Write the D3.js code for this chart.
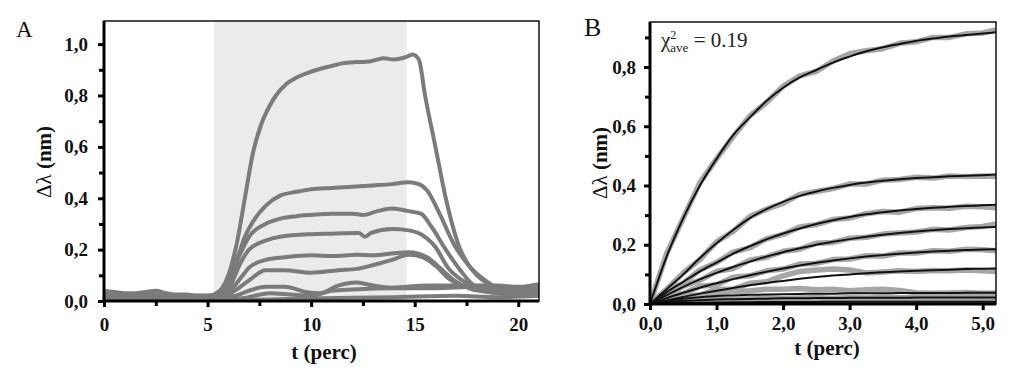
<!DOCTYPE html>
<html>
<head>
<meta charset="utf-8">
<script src="https://cdn.jsdelivr.net/npm/d3@7"></script>
<style>
  body { margin: 0; background: #fff; }
  text { font-family: "Liberation Serif", "Times New Roman", "DejaVu Serif", serif; }
</style>
</head>
<body>
<svg id="chart" width="1024" height="389"></svg>
<script>
// ---- panel A : sensorgrams [t (perc), delta lambda (nm)]
const traceA1 = [[0,0.04],[0.5,0.035],[1,0.03],[1.5,0.03],[2,0.035],[2.5,0.04],[3,0.03],[3.5,0.025],[4,0.025],[4.5,0.02],[5,0.02],[5.3,0.025],[5.7,0.05],[6.0,0.1],[6.4,0.22],[6.8,0.4],[7.2,0.58],[7.6,0.69],[8.0,0.76],[8.3,0.8],[8.8,0.845],[9.3,0.87],[9.9,0.89],[10.5,0.905],[11,0.915],[11.5,0.925],[12.2,0.93],[12.8,0.932],[13.5,0.945],[14,0.94],[14.6,0.95],[14.9,0.96],[15.2,0.94],[15.5,0.8],[16.0,0.6],[16.5,0.4],[17.2,0.2],[17.6,0.14],[18.0,0.1],[18.5,0.07],[19.05,0.05],[19.5,0.04],[20,0.035],[20.5,0.045],[21,0.05]];
const traceA2 = [[0,0.03],[1,0.025],[2,0.03],[3,0.02],[4,0.02],[5,0.015],[5.5,0.02],[6.0,0.08],[6.5,0.18],[6.8,0.25],[7.2,0.31],[7.8,0.37],[8.5,0.41],[9.3,0.425],[10,0.435],[11,0.44],[12,0.445],[13,0.45],[13.9,0.455],[14.7,0.462],[15.2,0.455],[15.6,0.43],[16.2,0.34],[16.9,0.22],[17.7,0.13],[18.4,0.08],[19,0.05],[19.5,0.04],[20,0.035],[21,0.04]];
const traceA3 = [[0,0.02],[1,0.02],[2,0.025],[3,0.015],[4,0.015],[5,0.02],[5.6,0.02],[6.0,0.07],[6.5,0.17],[7,0.25],[7.8,0.3],[8.5,0.32],[9.3,0.33],[10,0.335],[11,0.34],[12,0.34],[12.5,0.335],[13.2,0.35],[13.9,0.36],[14.7,0.35],[15.3,0.34],[15.8,0.29],[16.5,0.2],[17.2,0.12],[17.8,0.065],[18.7,0.04],[19.5,0.03],[20.5,0.03],[21,0.035]];
const traceA4 = [[0,0.025],[1,0.02],[2,0.02],[3,0.02],[4,0.015],[5,0.015],[5.6,0.02],[6.1,0.06],[6.6,0.15],[7,0.2],[7.8,0.235],[8.5,0.25],[10,0.26],[11,0.262],[12.3,0.265],[12.6,0.25],[12.9,0.265],[13.9,0.28],[14.7,0.275],[15.3,0.26],[16,0.21],[16.6,0.13],[17.3,0.08],[18.1,0.046],[19,0.03],[20,0.025],[21,0.03]];
const traceA5 = [[0,0.03],[1,0.025],[2,0.02],[3,0.025],[4,0.02],[5,0.02],[5.7,0.02],[6.2,0.05],[6.7,0.1],[7,0.13],[7.8,0.16],[8.7,0.17],[10,0.178],[11,0.175],[12.2,0.18],[13,0.178],[13.9,0.185],[14.7,0.19],[15.6,0.17],[16.2,0.13],[16.9,0.08],[17.6,0.05],[18.5,0.035],[19.5,0.03],[21,0.03]];
const traceA6 = [[0,0.02],[1,0.02],[2,0.03],[3,0.02],[4,0.02],[5,0.02],[5.8,0.02],[6.3,0.04],[7,0.08],[7.8,0.12],[8.7,0.12],[10,0.11],[11.3,0.12],[12.2,0.125],[13,0.14],[13.9,0.16],[14.7,0.18],[15.4,0.17],[16.1,0.13],[16.6,0.09],[17.3,0.06],[18.8,0.04],[20,0.035],[21,0.04]];
const traceA7 = [[0,0.02],[2,0.02],[4,0.02],[5.5,0.015],[6.3,0.02],[7,0.04],[7.8,0.055],[8.7,0.055],[9.9,0.033],[10.4,0.03],[11.3,0.06],[12.2,0.072],[13,0.06],[13.9,0.052],[15.6,0.06],[17.3,0.06],[19,0.06],[20,0.055],[21,0.065]];
const traceA8 = [[0,0.015],[3,0.015],[5.5,0.01],[6.5,0.01],[8,0.03],[9,0.025],[10,0.02],[11,0.04],[12,0.045],[14,0.05],[16,0.05],[18,0.055],[20,0.05],[21,0.05]];
const traceA9 = [[0,0.01],[5,0.01],[7,0.005],[10,0.01],[14,0.015],[17,0.02],[19,0.015],[21,0.02]];
const tracesA = [traceA1, traceA2, traceA3, traceA4, traceA5, traceA6, traceA7, traceA8, traceA9];
const injection = [5.3, 14.6];   // shaded association phase

const xTicksA = [0, 5, 10, 15, 20];
const xMinorA = [2.5, 7.5, 12.5, 17.5];
const yTicksA = [0, 0.2, 0.4, 0.6, 0.8, 1.0];
const yMinorA = [0.1, 0.3, 0.5, 0.7, 0.9];

// ---- panel B : association phase, data (grey) and fits (black)
const tB = [0,0.25,0.5,0.75,1,1.25,1.5,1.75,2,2.25,2.5,2.75,3,3.25,3.5,3.75,4,4.25,4.5,4.75,5,5.2];
const fitB1 = [0,0.16,0.29,0.40,0.49,0.57,0.63,0.685,0.73,0.765,0.79,0.815,0.835,0.853,0.867,0.878,0.888,0.896,0.903,0.908,0.913,0.917];
const fitB2 = [0,0.05,0.10,0.155,0.205,0.25,0.29,0.32,0.345,0.365,0.38,0.392,0.402,0.41,0.416,0.421,0.425,0.428,0.431,0.433,0.435,0.437];
const fitB3 = [0,0.04,0.075,0.11,0.14,0.17,0.195,0.218,0.238,0.255,0.27,0.283,0.294,0.303,0.31,0.316,0.321,0.325,0.328,0.331,0.333,0.335];
const fitB4 = [0,0.03,0.058,0.083,0.105,0.125,0.143,0.16,0.175,0.188,0.2,0.21,0.219,0.227,0.234,0.24,0.245,0.249,0.253,0.256,0.258,0.26];
const fitB5 = [0,0.02,0.038,0.055,0.07,0.084,0.097,0.109,0.12,0.13,0.139,0.147,0.154,0.16,0.165,0.17,0.174,0.177,0.18,0.182,0.184,0.185];
const fitB6 = [0,0.012,0.024,0.035,0.045,0.054,0.063,0.071,0.078,0.085,0.091,0.096,0.1,0.104,0.107,0.11,0.112,0.114,0.116,0.118,0.119,0.12];
const fitB7 = [0,0.01,0.018,0.023,0.027,0.029,0.031,0.032,0.033,0.034,0.035,0.035,0.036,0.036,0.036,0.037,0.037,0.037,0.037,0.038,0.038,0.038];
const fitB8 = [0,0.006,0.01,0.013,0.015,0.016,0.017,0.018,0.019,0.019,0.02,0.02,0.021,0.021,0.021,0.021,0.022,0.022,0.022,0.022,0.022,0.022];
const fitB9 = [0,0.002,0.003,0.004,0.005,0.006,0.006,0.007,0.007,0.007,0.007,0.008,0.008,0.008,0.008,0.008,0.008,0.008,0.008,0.008,0.008,0.008];
const dataB1 = [0,0.17,0.29,0.41,0.49,0.565,0.635,0.68,0.735,0.77,0.785,0.82,0.845,0.855,0.862,0.88,0.885,0.9,0.9,0.912,0.915,0.925];
const dataB2 = [0,0.05,0.105,0.15,0.21,0.245,0.295,0.32,0.34,0.37,0.38,0.39,0.405,0.405,0.418,0.42,0.428,0.425,0.432,0.43,0.432,0.43];
const dataB3 = [0,0.045,0.07,0.115,0.14,0.175,0.19,0.22,0.235,0.26,0.268,0.285,0.29,0.305,0.312,0.31,0.322,0.325,0.323,0.33,0.328,0.325];
const dataB4 = [0,0.03,0.06,0.08,0.11,0.12,0.148,0.158,0.178,0.185,0.205,0.208,0.222,0.225,0.236,0.24,0.243,0.252,0.25,0.258,0.262,0.27];
const dataB5 = [0,0.025,0.035,0.06,0.065,0.09,0.095,0.112,0.118,0.135,0.137,0.15,0.152,0.163,0.162,0.172,0.172,0.18,0.178,0.185,0.183,0.18];
const dataB6 = [0,0.01,0.028,0.03,0.05,0.05,0.07,0.075,0.095,0.11,0.115,0.118,0.115,0.105,0.108,0.112,0.11,0.113,0.112,0.115,0.112,0.11];
const dataB7 = [0,0.012,0.02,0.03,0.038,0.042,0.045,0.05,0.05,0.052,0.048,0.05,0.045,0.048,0.05,0.046,0.038,0.036,0.037,0.039,0.036,0.037];
const dataB8 = [0,0.005,0.012,0.012,0.016,0.015,0.018,0.02,0.018,0.02,0.022,0.019,0.021,0.02,0.023,0.021,0.022,0.02,0.023,0.021,0.022,0.022];
const dataB9 = [0,0.003,0.002,0.005,0.004,0.006,0.005,0.008,0.006,0.007,0.009,0.007,0.008,0.006,0.009,0.008,0.007,0.009,0.008,0.007,0.008,0.009];
const fitsB = [fitB1, fitB2, fitB3, fitB4, fitB5, fitB6, fitB7, fitB8, fitB9];
const dataB = [dataB1, dataB2, dataB3, dataB4, dataB5, dataB6, dataB7, dataB8, dataB9];

const xTicksB = [0, 1, 2, 3, 4, 5];
const yTicksB = [0, 0.2, 0.4, 0.6, 0.8];
const yMinorB = [0.1, 0.3, 0.5, 0.7, 0.9];

const svg = d3.select("#chart");
const comma = d => d3.format(".1f")(d).replace(".", ",");

function drawFrame(g, x, y) {
    const [x0, x1] = x.range(), [y0, y1] = y.range();
    g.append("rect")
        .attr("x", x0).attr("y", y1)
        .attr("width", x1 - x0).attr("height", y0 - y1)
        .attr("fill", "none").attr("stroke", "#000").attr("stroke-width", 1.4);
    g.append("line").attr("x1", x0).attr("x2", x0).attr("y1", y1).attr("y2", y0 + 1)
        .attr("stroke", "#000").attr("stroke-width", 3);
    g.append("line").attr("x1", x0 - 1).attr("x2", x1).attr("y1", y0).attr("y2", y0)
        .attr("stroke", "#000").attr("stroke-width", 3);
}

function drawAxes(g, x, y, xt, xm, yt, ym, xfmt, yfmt, xpad, ypad) {
    const y0 = y.range()[0], x0 = x.range()[0];
    let ax = g.append("g").attr("transform", `translate(0,${y0})`)
        .call(d3.axisBottom(x).tickValues(xt).tickFormat(xfmt).tickSize(6).tickPadding(xpad));
    let axm = g.append("g").attr("transform", `translate(0,${y0})`)
        .call(d3.axisBottom(x).tickValues(xm).tickFormat("").tickSize(5));
    let ay = g.append("g").attr("transform", `translate(${x0},0)`)
        .call(d3.axisLeft(y).tickValues(yt).tickFormat(yfmt).tickSize(6).tickPadding(ypad));
    let aym = g.append("g").attr("transform", `translate(${x0},0)`)
        .call(d3.axisLeft(y).tickValues(ym).tickFormat("").tickSize(5));
    [ax, axm, ay, aym].forEach(a => {
        a.select(".domain").remove();
        a.selectAll("line").attr("stroke", "#000").attr("stroke-width", 3);
        a.selectAll("text")
            .attr("fill", "#111")
            .style("font-family", "'Liberation Serif', 'Times New Roman', serif")
            .style("font-weight", "bold")
            .style("font-size", "19px");
    });
}

function yTitle(g, cx, cy) {
    const t = g.append("text")
        .attr("transform", `translate(${cx},${cy}) rotate(-90)`)
        .attr("text-anchor", "middle")
        .style("font-size", "21px")
        .attr("fill", "#111");
    t.append("tspan").text("Δλ").style("font-weight", "normal");
    t.append("tspan").text(" (nm)").style("font-weight", "bold");
}

function xTitle(g, cx, cy) {
    g.append("text")
        .attr("x", cx).attr("y", cy)
        .attr("text-anchor", "middle")
        .style("font-size", "21px").style("font-weight", "bold")
        .attr("fill", "#111")
        .text("t (perc)");
}

function drawPanelA() {
    const x = d3.scaleLinear().domain([0, 21]).range([104, 539]);
    const y = d3.scaleLinear().domain([0, 1.09]).range([301, 21]);
    const g = svg.append("g");

    g.append("defs").append("clipPath").attr("id", "clipA")
        .append("rect").attr("x", x(0)).attr("y", y(1.09))
        .attr("width", x(21) - x(0)).attr("height", y(0) - y(1.09));

    // shaded injection window
    g.append("rect")
        .attr("x", x(injection[0])).attr("y", y(1.09))
        .attr("width", x(injection[1]) - x(injection[0]))
        .attr("height", y(0) - y(1.09))
        .attr("fill", "#ebebeb");

    const line = d3.line().x(d => x(d[0])).y(d => y(d[1])).curve(d3.curveMonotoneX);
    g.append("g").attr("clip-path", "url(#clipA)")
        .selectAll("path")
        .data(tracesA.slice().reverse())
        .enter()
        .append("path")
        .attr("d", line)
        .attr("fill", "none")
        .attr("stroke", "#7b7b7b")
        .attr("stroke-width", 4)
        .attr("stroke-linejoin", "round")
        .attr("stroke-linecap", "round");

    drawFrame(g, x, y);
    drawAxes(g, x, y, xTicksA, xMinorA, yTicksA, yMinorA, d3.format("d"), comma, 11, 10);
    yTitle(g, 51, 162);
    xTitle(g, 324, 359);

    g.append("text").attr("x", 16).attr("y", 37)
        .style("font-size", "23px").attr("fill", "#111").text("A");
}

function drawPanelB() {
    const x = d3.scaleLinear().domain([0, 5.2]).range([650, 996]);
    const y = d3.scaleLinear().domain([0, 0.952]).range([304, 22]);
    const g = svg.append("g");

    g.append("defs").append("clipPath").attr("id", "clipB")
        .append("rect").attr("x", x(0)).attr("y", y(0.952))
        .attr("width", x(5.2) - x(0)).attr("height", y(0) - y(0.952));

    const line = d3.line().x((d, i) => x(tB[i])).y(d => y(d));
    const plot = g.append("g").attr("clip-path", "url(#clipB)");

    plot.selectAll("path.data")
        .data(dataB)
        .enter()
        .append("path")
        .attr("class", "data")
        .attr("d", line)
        .attr("fill", "none")
        .attr("stroke", "#a6a6a6")
        .attr("stroke-width", 5.5)
        .attr("stroke-linejoin", "round");

    plot.selectAll("path.fit")
        .data(fitsB)
        .enter()
        .append("path")
        .attr("class", "fit")
        .attr("d", line.curve(d3.curveMonotoneX))
        .attr("fill", "none")
        .attr("stroke", "#111")
        .attr("stroke-width", 2);

    drawFrame(g, x, y);
    drawAxes(g, x, y, xTicksB, [], yTicksB, yMinorB, comma, comma, 7, 8);
    yTitle(g, 607, 163);
    xTitle(g, 827, 355);

    g.append("text").attr("x", 584).attr("y", 36)
        .style("font-size", "26px").attr("fill", "#111").text("B");

    // chi-square label
    const chi = g.append("text").attr("x", 661).attr("y", 47)
        .style("font-size", "21px").attr("fill", "#222");
    chi.append("tspan").text("χ");
    chi.append("tspan").text("2").attr("dy", -8).style("font-size", "12px");
    chi.append("tspan").text("ave").attr("dx", -6).attr("dy", 13).style("font-size", "13px");
    chi.append("tspan").text(" = 0.19").attr("dy", -5);
}

drawPanelA();
drawPanelB();
</script>
</body>
</html>
